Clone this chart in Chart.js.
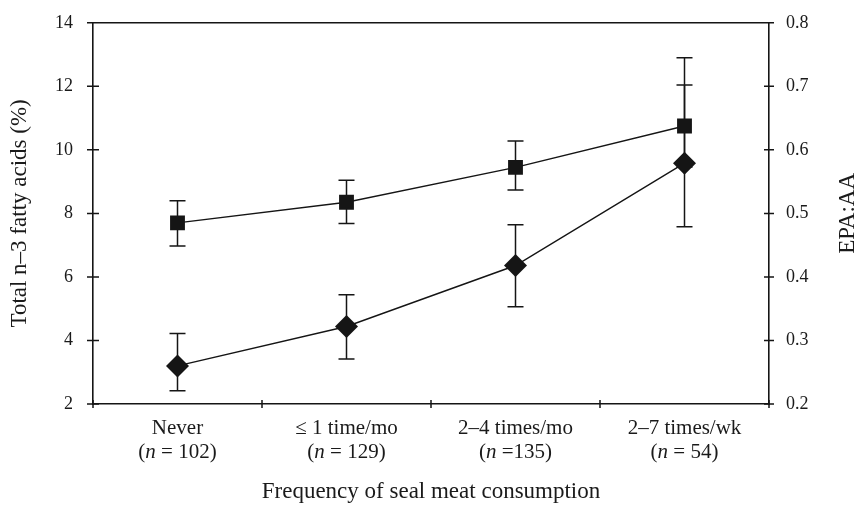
<!DOCTYPE html>
<html>
<head>
<meta charset="utf-8">
<title>Seal meat consumption</title>
<script src="https://cdn.jsdelivr.net/npm/chart.js@4.4.0/dist/chart.umd.min.js"></script>
<style>
  html, body { margin: 0; padding: 0; background: #fff; }
  #wrap { width: 857px; height: 518px; position: relative; }
</style>
</head>
<body>
<div id="wrap"><canvas id="sealChart"></canvas></div>
<script>
// categories along the x axis, with group sizes
var categories = ['Never', '\u2264 1 time/mo', '2\u20134 times/mo', '2\u20137 times/wk'];
var groupSizes = [' = 102)', ' = 129)', ' =135)', ' = 54)'];

// total n-3 fatty acids (%), squares, left axis
var n3Values = [7.7, 8.35, 9.45, 10.75];
var n3Upper = [8.4, 9.04, 10.28, 12.04];
var n3Lower = [6.97, 7.68, 8.74, 9.46];

// EPA:AA ratio, diamonds, right axis
var epaValues = [0.26, 0.322, 0.418, 0.579];
var epaUpper = [0.311, 0.372, 0.482, 0.745];
var epaLower = [0.221, 0.271, 0.353, 0.479];

var leftTicks = [2, 4, 6, 8, 10, 12, 14];
var rightTicks = [0.2, 0.3, 0.4, 0.5, 0.6, 0.7, 0.8];

var serif = '"Liberation Serif", "DejaVu Serif", serif';
var ink = '#151515';

// error bars, tick marks, top frame, x labels with italic n, right title
var sealExtras = {
  id: 'sealExtras',
  beforeDatasetsDraw: function (chart) {
    var ctx = chart.ctx;
    var xs = chart.scales.x;
    ctx.save();
    ctx.strokeStyle = ink;
    ctx.lineWidth = 1.5;
    chart.data.datasets.forEach(function (ds) {
      var ys = chart.scales[ds.yAxisID];
      ds.data.forEach(function (v, i) {
        var px = xs.getPixelForValue(i);
        var top = ys.getPixelForValue(ds.errUp[i]);
        var bot = ys.getPixelForValue(ds.errLow[i]);
        ctx.beginPath();
        ctx.moveTo(px, top); ctx.lineTo(px, bot);
        ctx.moveTo(px - 8, top); ctx.lineTo(px + 8, top);
        ctx.moveTo(px - 8, bot); ctx.lineTo(px + 8, bot);
        ctx.stroke();
      });
    });
    ctx.restore();
  },
  afterDraw: function (chart) {
    var ctx = chart.ctx;
    var xs = chart.scales.x, yl = chart.scales.y, yr = chart.scales.y1;
    var area = chart.chartArea;
    ctx.save();
    ctx.strokeStyle = ink;
    ctx.lineWidth = 1.5;
    ctx.beginPath();
    // top frame line
    ctx.moveTo(area.left, area.top); ctx.lineTo(area.right, area.top);
    // left ticks crossing the axis
    leftTicks.forEach(function (v) {
      var py = yl.getPixelForValue(v);
      ctx.moveTo(area.left - 6, py); ctx.lineTo(area.left + 6, py);
    });
    rightTicks.forEach(function (v) {
      var py = yr.getPixelForValue(v);
      ctx.moveTo(area.right - 5, py); ctx.lineTo(area.right + 5, py);
    });
    // x ticks at category boundaries
    for (var i = 0; i <= categories.length; i++) {
      var bx;
      if (i === 0) bx = area.left;
      else if (i === categories.length) bx = area.right;
      else bx = (xs.getPixelForValue(i - 1) + xs.getPixelForValue(i)) / 2;
      ctx.moveTo(bx, area.bottom - 4); ctx.lineTo(bx, area.bottom + 4);
    }
    ctx.stroke();

    // x labels
    ctx.fillStyle = '#1a1a1a';
    ctx.textBaseline = 'middle';
    var upright = '21px ' + serif, slanted = 'italic 21px ' + serif;
    categories.forEach(function (name, i) {
      var px = xs.getPixelForValue(i);
      ctx.font = upright;
      ctx.textAlign = 'center';
      ctx.fillText(name, px, area.bottom + 24);
      ctx.textAlign = 'left';
      var w1 = ctx.measureText('(').width;
      var w3 = ctx.measureText(groupSizes[i]).width;
      ctx.font = slanted;
      var w2 = ctx.measureText('n').width;
      var sx = px - (w1 + w2 + w3) / 2;
      ctx.font = upright;
      ctx.fillText('(', sx, area.bottom + 48);
      ctx.font = slanted;
      ctx.fillText('n', sx + w1, area.bottom + 48);
      ctx.font = upright;
      ctx.fillText(groupSizes[i], sx + w1 + w2, area.bottom + 48);
    });

    // right axis title, reading upward
    ctx.translate(848, (area.top + area.bottom) / 2);
    ctx.rotate(-Math.PI / 2);
    ctx.textAlign = 'center';
    ctx.font = '23px ' + serif;
    ctx.fillText('EPA:AA', 0, 0);
    ctx.restore();
  }
};

var config = {
  type: 'line',
  data: {
    labels: categories,
    datasets: [{
      label: 'Total n-3 fatty acids',
      data: n3Values,
      errUp: n3Upper,
      errLow: n3Lower,
      yAxisID: 'y',
      borderColor: ink,
      borderWidth: 1.4,
      backgroundColor: ink,
      pointStyle: 'rect',
      pointRadius: 10.5,
      pointBorderWidth: 0,
      tension: 0
    }, {
      label: 'EPA:AA',
      data: epaValues,
      errUp: epaUpper,
      errLow: epaLower,
      yAxisID: 'y1',
      borderColor: ink,
      borderWidth: 1.4,
      backgroundColor: ink,
      pointStyle: 'rectRot',
      pointRadius: 11.5,
      pointBorderWidth: 0,
      tension: 0
    }]
  },
  options: {
    responsive: true,
    maintainAspectRatio: false,
    animation: false,
    layout: { padding: { top: 19, left: 0, right: 0, bottom: 0 } },
    plugins: { legend: { display: false }, tooltip: { enabled: false } },
    scales: {
      x: {
        type: 'category',
        offset: true,
        grid: { display: false },
        border: { display: true, color: ink, width: 1.6 },
        ticks: { display: false },
        title: {
          display: true,
          text: 'Frequency of seal meat consumption',
          color: '#1a1a1a',
          font: { family: serif, size: 23 },
          padding: { top: 0, bottom: 12 }
        },
        afterFit: function (s) { s.height = 114; }
      },
      y: {
        position: 'left',
        min: 2,
        max: 14,
        grid: { display: false },
        border: { display: true, color: ink, width: 1.6 },
        afterBuildTicks: function (s) { s.ticks = leftTicks.map(function (v) { return { value: v }; }); },
        ticks: { color: '#1a1a1a', font: { family: serif, size: 18 }, padding: 12 },
        title: {
          display: true,
          text: 'Total n\u20133 fatty acids (%)',
          color: '#1a1a1a',
          font: { family: serif, size: 23 },
          padding: { top: 6, bottom: 0 }
        },
        afterFit: function (s) { s.width = 93; }
      },
      y1: {
        position: 'right',
        min: 0.2,
        max: 0.8,
        grid: { display: false },
        border: { display: true, color: ink, width: 1.6 },
        afterBuildTicks: function (s) { s.ticks = rightTicks.map(function (v) { return { value: v }; }); },
        ticks: {
          color: '#1a1a1a',
          font: { family: serif, size: 18 },
          padding: 9,
          callback: function (v) { return Number(v).toFixed(1); }
        },
        afterFit: function (s) { s.width = 88; }
      }
    }
  },
  plugins: [sealExtras]
};

window.onload = function () {
  var ctx = document.getElementById('sealChart').getContext('2d');
  window.sealChart = new Chart(ctx, config);
};
</script>
</body>
</html>
